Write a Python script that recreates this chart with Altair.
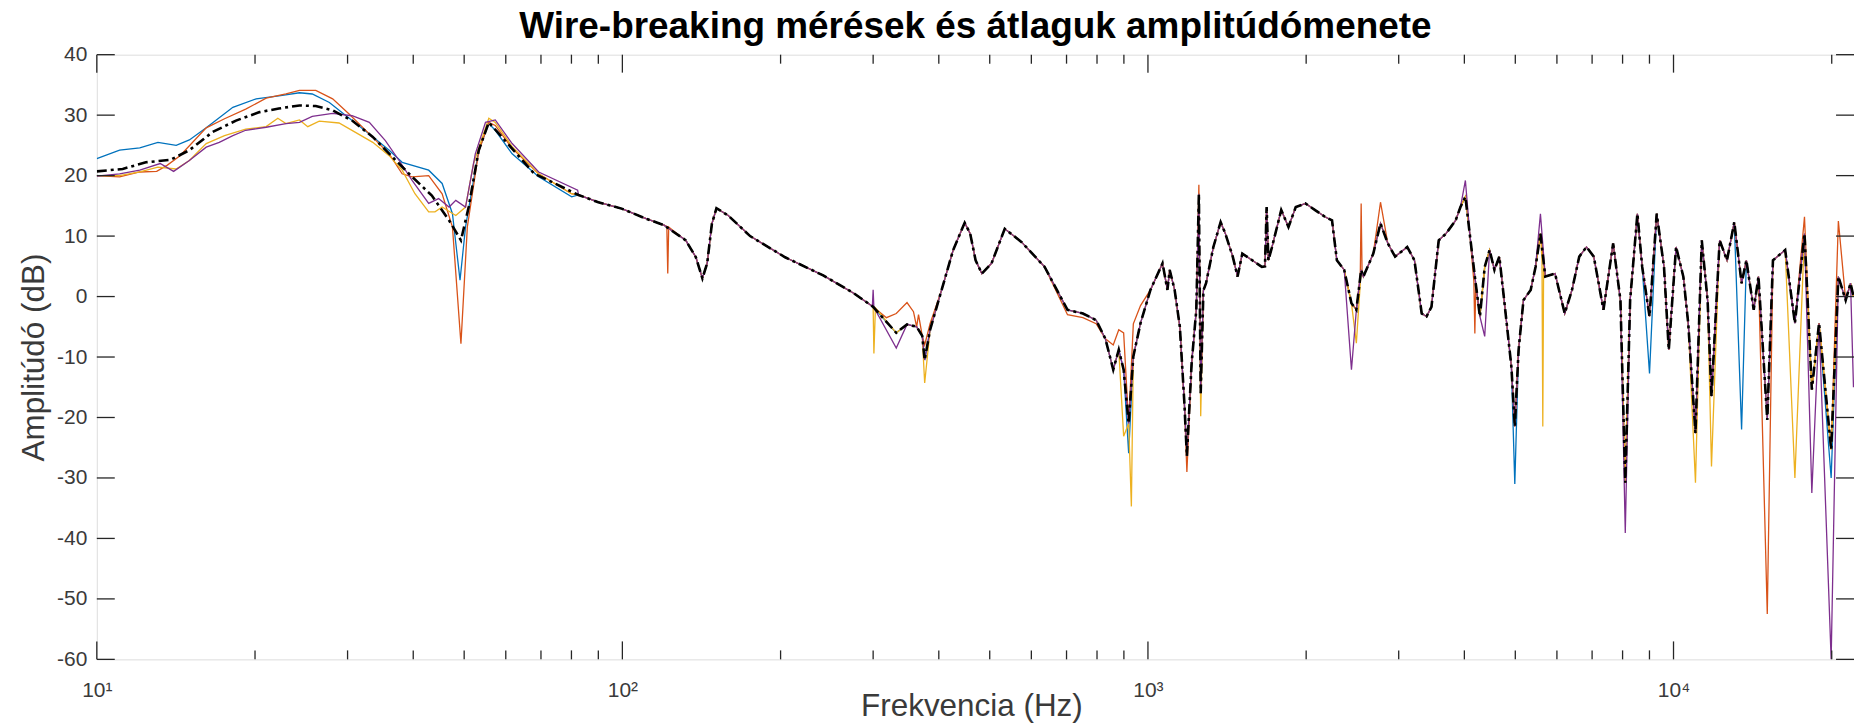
import altair as alt
import pandas as pd

TITLE = "Wire-breaking mérések és átlaguk amplitúdómenete"
X_TITLE = "Frekvencia (Hz)"
Y_TITLE = "Amplitúdó (dB)"

# Mean curve (black dash-dot), frequency in Hz, amplitude in dB
MEAN_F = [10, 11.2, 12.4, 13.8, 15.0, 16.6, 18.4, 20.4, 22.2, 24.3, 26.1, 28.1, 30.6, 33.5,
          36.5, 39.8, 43.4, 46.8, 49.3, 51.0, 53.3, 55.7, 59.8, 68, 72, 82.5, 90, 100, 110,
          120, 132, 138, 142, 145, 148, 151, 159, 175, 204, 241, 275, 300, 332, 348, 363,
          372, 376, 385, 405, 426, 448, 459, 470, 483, 504, 534, 575, 636, 703, 752, 797,
          830, 859, 880, 899, 919, 938, 968, 1011, 1066, 1089, 1100, 1124, 1150, 1173,
          1186, 1211, 1236, 1250, 1260, 1275, 1290, 1332, 1375, 1404, 1450, 1481, 1512,
          1579, 1647, 1670, 1682, 1695, 1720, 1793, 1851, 1911, 1994, 2080, 2171, 2240,
          2288, 2363, 2439, 2492, 2545, 2570, 2684, 2770, 2860, 2953, 3114, 3214, 3318,
          3389, 3463, 3575, 3690, 3850, 3932, 4018, 4100, 4188, 4282, 4373, 4467, 4564,
          4662, 4762, 4915, 4989, 5073, 5182, 5349, 5464, 5582, 5702, 5951, 6209, 6410,
          6617, 6830, 7052, 7357, 7676, 7925, 8095, 8269, 8536, 8718, 9002, 9290, 9592,
          9795, 10113, 10440, 10665, 11010, 11318, 11610, 11810, 12240, 12640, 13050,
          13475, 13760, 14210, 14510, 15080, 15460, 16310, 17020, 17750, 18330, 18920,
          19950, 20590, 21260, 21720, 22000]
MEAN_DB = [20.7, 21.1, 22.2, 22.6, 24.2, 27.2, 29.1, 30.5, 31.1, 31.6, 31.5, 30.8, 29.1, 26.4,
           23.1, 19.8, 16.7, 12.6, 9.3, 14.8, 24.2, 28.8, 25.8, 20.3, 19.3, 16.8, 15.6, 14.5, 13.0,
           11.8, 9.3, 6.5, 3.0, 5.5, 12.0, 14.6, 13.4, 10.0, 6.5, 3.5, 0.6, -1.7, -6.0, -4.6, -5.0,
           -6.5, -10.5, -5.5, 1.1, 7.7, 12.2, 10.4, 6.0, 3.8, 5.5, 11.2, 9.0, 4.9, -2.2, -2.8, -3.9,
           -7.0, -12.1, -8.8, -12.1, -21.0, -9.9, -4.4, 1.1, 5.5, 1.1, 4.4, 1.1, -5.0, -17.6,
           -26.4, -11.0, -2.2, 17.0, -16.0, 1.0, 2.2, 8.2, 12.3, 10.4, 6.6, 3.3, 7.1,
           6.0, 4.9, 5.0, 14.8, 6.0, 8.0, 14.3, 11.5, 14.8, 15.4, 14.3, 13.2, 12.6,
           6.0, 4.4, -1.1, -2.2, 4.4, 3.3, 7.1, 12.1, 8.8, 6.6, 8.2, 6.0, -2.8,
           -3.3, -1.7, 9.3, 10.4, 12.6, 14.8, 16.5, 10.0, 3.3, -3.3, 4.9, 7.7, 4.4,
           6.6, -0.6, -11.6, -21.5, -8.8, -0.6, 1.1, 4.9, 10.4, 3.3, 3.8, -2.8, 1.1,
           6.6, 8.2, 6.6, -2.2, 8.8, -0.6, -30.8, -0.6, 13.7, 4.9, -3.3, 13.7, 4.9,
           -8.8, 8.2, 3.3, -4.4, -22.6, 9.3, -0.6, -16.5, 9.3, 6.0, 12.3,
           2.2, 6.0, -2.2, 3.3, -20.4, 6.0, 7.7, -4.4, 10.4, -15.4, -4.4,
           -25.3, 3.3, -0.6, 2.2, 0.0]

# Individual measurements: own low-frequency part, then own deviations from the common trace
BLUE_LOW_F = [10, 11.05, 12.07, 13.07, 14.16, 15.0, 16.15, 18.15, 20.1, 22.2, 24.3, 25.7, 27.7,
              29.8, 33.0, 36.0, 38.1, 42.8, 45.4, 47.5, 49.1, 50.3, 53.3, 55.7, 57.3, 61.7, 69.3, 80.1]
BLUE_LOW_DB = [22.8, 24.2, 24.6, 25.5, 25.0, 25.9, 27.9, 31.3, 32.7, 33.2, 33.7, 33.5, 32.1,
               29.9, 26.9, 24.2, 22.2, 20.9, 18.7, 13.7, 2.7, 11.5, 24.2, 28.6, 27.5, 23.6, 19.8, 16.5]
BLUE_EX_F = [919, 4989, 9002, 13475, 19950]
BLUE_EX_DB = [-25.9, -31.0, -12.7, -22.0, -30.0]

ORANGE_LOW_F = [10, 11.05, 12.07, 13.0, 13.6, 14.4, 16.15, 17.5, 19.2, 21.0, 22.9, 24.3, 26.1,
                28.1, 30.2, 33.0, 36.0, 38.1, 39.8, 42.8, 45.4, 47.5, 49.3, 50.7, 53.3, 55.7,
                57.3, 61.7, 69.3, 80]
ORANGE_LOW_DB = [20.0, 19.8, 20.6, 20.7, 21.7, 23.3, 27.9, 29.4, 31.0, 32.8, 33.5, 34.1, 34.1,
                 32.7, 30.2, 26.9, 23.6, 20.3, 19.8, 20.0, 17.0, 11.5, -7.8, 11.5, 24.0, 28.8,
                 28.3, 24.5, 20.3, 17.0]
ORANGE_EX_F = [121.5, 122, 122.5, 318, 332, 348, 358, 366, 376, 385, 703, 752, 797, 859, 880,
               899, 938, 968, 1186, 1250, 2535, 2545, 2555, 2770, 4170, 4188, 4205, 15080,
               17750, 20590]
ORANGE_EX_DB = [11.6, 3.8, 11.5, -3.5, -2.8, -1.0, -2.5, -3.0, -8.0, -4.5, -3.0, -3.5, -4.5,
                -8.0, -5.5, -6.0, -4.5, -1.5, -29.0, 18.5, 3.5, 15.4, 4.0, 15.6, 2.5, -6.1,
                2.0, -52.5, 13.2, 12.5]

YELLOW_LOW_F = [10, 11.05, 12.07, 13.07, 14.16, 15.0, 16.15, 17.5, 19.2, 21.0, 22.1, 22.9, 24.3,
                25.2, 26.5, 28.9, 31.0, 33.5, 36.0, 38.1, 40.3, 42.8, 44.0, 45.4, 48.2, 50.3,
                52.1, 55.7, 57.3, 61.7, 69.3, 80]
YELLOW_LOW_DB = [20.0, 20.0, 20.6, 21.4, 21.1, 22.5, 25.3, 26.6, 27.7, 28.1, 29.5, 28.6, 29.2,
                 28.1, 29.0, 28.7, 27.2, 25.5, 23.3, 20.9, 17.0, 14.0, 14.0, 14.8, 13.4, 14.8,
                 22.0, 29.5, 28.8, 24.8, 20.3, 17.0]
YELLOW_EX_F = [299, 301, 303, 376, 899, 930, 1260, 2492, 5620, 5640, 5660, 11010, 11810, 17020]
YELLOW_EX_DB = [-1.6, -9.4, -1.9, -14.3, -23.1, -34.7, -19.8, -7.7, 6.0, -21.5, 5.0, -30.8,
                -28.1, -30.0]

PURPLE_LOW_F = [10, 11.05, 12.07, 13.2, 14.0, 15.0, 16.15, 17.1, 18.15, 19.2, 21.0, 22.9, 24.3,
                25.7, 28.1, 30.6, 33.0, 35.4, 37.6, 39.8, 42.8, 44.7, 46.8, 48.2, 50.3, 52.5,
                54.9, 57.3, 61.7, 69.3, 82.2]
PURPLE_LOW_DB = [19.9, 20.3, 20.9, 22.0, 20.7, 22.5, 24.7, 25.5, 26.6, 27.5, 28.0, 28.6, 28.8,
                 29.8, 30.3, 29.9, 28.8, 25.8, 22.5, 19.2, 15.4, 16.2, 14.8, 15.9, 14.8, 23.6,
                 28.8, 29.2, 25.3, 20.6, 17.6]
PURPLE_EX_F = [299, 300, 301, 332, 2439, 4018, 4373, 5582, 8095, 18330, 19950, 22000]
PURPLE_EX_DB = [-1.6, 1.1, -1.8, -8.5, -12.1, 19.2, -6.6, 13.7, -39.1, -32.5, -60.0, -15.0]

SERIES = [
    ("mérés 1", "#0072BD", BLUE_LOW_F, BLUE_LOW_DB, BLUE_EX_F, BLUE_EX_DB),
    ("mérés 2", "#D95319", ORANGE_LOW_F, ORANGE_LOW_DB, ORANGE_EX_F, ORANGE_EX_DB),
    ("mérés 3", "#EDB120", YELLOW_LOW_F, YELLOW_LOW_DB, YELLOW_EX_F, YELLOW_EX_DB),
    ("mérés 4", "#7E2F8E", PURPLE_LOW_F, PURPLE_LOW_DB, PURPLE_EX_F, PURPLE_EX_DB),
]

X_MAJOR = [10, 100, 1000, 10000]
X_MINOR = [20, 30, 40, 50, 60, 70, 80, 90, 200, 300, 400, 500, 600, 700, 800, 900,
           2000, 3000, 4000, 5000, 6000, 7000, 8000, 9000, 20000]
Y_TICKS = [-60, -50, -40, -30, -20, -10, 0, 10, 20, 30, 40]

W, H = 1761, 606
FONT = "Liberation Sans"
AX = "#262626"
LAB = "#3a3a3a"

xscale = alt.Scale(type="log", domain=[10, 22050], nice=False)
yscale = alt.Scale(domain=[-60, 40], nice=False, zero=False)

x_axis = alt.Axis(values=X_MAJOR, ticks=False, domain=False, grid=False,
                  labelExpr="datum.value == 10 ? '10\u00b9' : datum.value == 100 ? '10\u00b2' : "
                            "datum.value == 1000 ? '10\u00b3' : '10\u2074'",
                  labelFontSize=21, labelFont=FONT, labelColor=LAB, labelPadding=20,
                  labelFlush=False, labelOverlap=False,
                  title=X_TITLE, titleFontSize=31.5, titleFont=FONT, titleFontWeight="normal",
                  titleColor=LAB, titleBaseline="alphabetic", titleY=56, titleX=W / 2 - 4)
y_axis = alt.Axis(values=Y_TICKS, ticks=False, domain=False, grid=False,
                  labelExpr="datum.value < 0 ? '-' + abs(datum.value) : '' + datum.value",
                  labelFontSize=21, labelFont=FONT, labelColor=LAB, labelPadding=10,
                  labelFlush=False, labelOverlap=False,
                  title=Y_TITLE, titleFontSize=31.5, titleFont=FONT, titleFontWeight="normal",
                  titleColor=LAB, titleAngle=270, titleBaseline="alphabetic",
                  titleX=-53, titleY=H / 2, titleAlign="center")


def X(field="f"):
    return alt.X(field + ":Q", scale=xscale, axis=x_axis)


def Y(field="db"):
    return alt.Y(field + ":Q", scale=yscale, axis=y_axis)


def build(low_f, low_db, ex_f, ex_db):
    pts = dict(zip(low_f, low_db))
    cut = max(low_f)
    for f, d in zip(MEAN_F, MEAN_DB):
        if f > cut:
            pts[f] = d
    for f, d in zip(ex_f, ex_db):
        pts[f] = d
    items = sorted(pts.items())
    return pd.DataFrame({"f": [i[0] for i in items], "db": [i[1] for i in items]})


layers = []
for name, color, lf, ld, ef, ed in SERIES:
    df = build(lf, ld, ef, ed)
    layers.append(
        alt.Chart(df).mark_line(color=color, strokeWidth=1.3, clip=True).encode(
            x=X(), y=Y(), order="f:Q")
    )

mean_df = pd.DataFrame({"f": MEAN_F, "db": MEAN_DB})
layers.append(
    alt.Chart(mean_df).mark_line(color="black", strokeWidth=2.6, strokeDash=[10, 4, 3, 4],
                                 clip=True).encode(x=X(), y=Y(), order="f:Q")
)

# inward tick marks (MATLAB box style)
xmaj = pd.DataFrame({"f": X_MAJOR})
xmin = pd.DataFrame({"f": X_MINOR})
yt = pd.DataFrame({"db": Y_TICKS})
tick = dict(color=AX, strokeWidth=1.3)
for d, L in ((xmaj, 18), (xmin, 9)):
    layers.append(alt.Chart(d).mark_rule(**tick).encode(
        x=X(), y=alt.value(H), y2=alt.value(H - L)))
    layers.append(alt.Chart(d).mark_rule(**tick).encode(
        x=X(), y=alt.value(0), y2=alt.value(L)))
layers.append(alt.Chart(yt).mark_rule(**tick).encode(
    y=Y(), x=alt.value(0), x2=alt.value(18)))
layers.append(alt.Chart(yt).mark_rule(**tick).encode(
    y=Y(), x=alt.value(W), x2=alt.value(W - 18)))

chart = alt.layer(*layers).properties(
    width=W, height=H,
    title=alt.TitleParams(TITLE, fontSize=37, font=FONT, fontWeight="bold", color="black",
                          anchor="middle", frame="group", offset=-2),
    padding={"left": 89, "top": 46, "right": 0, "bottom": 67},
    autosize=alt.AutoSizeParams(type="none"),
).configure_view(stroke=AX, strokeWidth=1.3).configure(background="white")

chart.save("out.html", embed_options={"renderer": "svg", "actions": False})
